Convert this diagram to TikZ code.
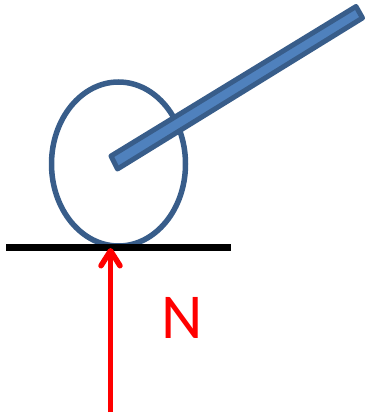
\documentclass[tikz,border=0pt]{standalone}
\usepackage{fontspec}
\setmainfont{Carlito}
\definecolor{wheelblue}{RGB}{56,93,138}
\definecolor{barblue}{RGB}{79,129,189}
\definecolor{forcered}{RGB}{255,0,0}
\usetikzlibrary{arrows.meta}
\begin{document}
\begin{tikzpicture}[x=1pt,y=-1pt]
\useasboundingbox (0,0) rectangle (365,414);

% Wheel
\draw[wheelblue, line width=5.5pt] (118.5,164) ellipse (67 and 82);

% Rod
\draw[wheelblue, line width=5pt, fill=barblue, line join=round] (111,156) -- (356,6.5) -- (362.5,18) -- (117.5,169) -- cycle;

% Ground
\draw[black, line width=7pt] (6,247) -- (231,247);

% Force
\coordinate (base) at (110.5,412);
\coordinate (tip) at (110.5,248);
\draw[forcered, line width=5.5pt, -{Straight Barb[round,length=15pt,width=19pt]}] (base) -- (tip);
\node[forcered, font=\fontsize{64}{64}\selectfont, anchor=base] (force) at (182,338) {N};

\end{tikzpicture}
\end{document}
